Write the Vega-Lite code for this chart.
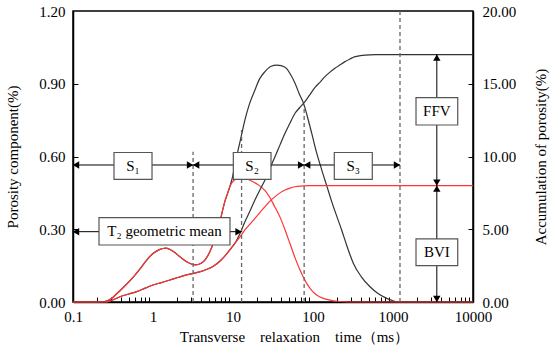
{
  "$schema": "https://vega.github.io/schema/vega-lite/v6.json",
  "width": 400,
  "height": 291,
  "autosize": {"type": "none"},
  "padding": {"left": 73, "top": 11, "right": 77, "bottom": 47},
  "config": {
    "view": {"stroke": "#000", "strokeWidth": 1.5},
    "axis": {"labelFont": "Liberation Serif", "titleFont": "Liberation Serif", "labelFontSize": 15, "titleFontSize": 15, "titleFontWeight": "normal", "labelColor": "#000", "titleColor": "#000", "domainColor": "#000", "domainWidth": 1.5, "tickColor": "#000", "grid": false},
    "text": {"font": "Liberation Serif"}
  },
  "datasets": {
    "poroRed": [
      {"t":0.1,"v":0},{"t":0.2,"v":0},{"t":0.25,"v":0.002},{"t":0.3,"v":0.013},{"t":0.35,"v":0.033},{"t":0.45,"v":0.068},{"t":0.57,"v":0.104},{"t":0.7,"v":0.14},{"t":0.83,"v":0.172},{"t":1.0,"v":0.2},{"t":1.2,"v":0.216},{"t":1.45,"v":0.222},{"t":1.8,"v":0.208},{"t":2.2,"v":0.185},{"t":2.7,"v":0.164},{"t":3.4,"v":0.153},{"t":4.0,"v":0.16},{"t":4.5,"v":0.175},{"t":5.1,"v":0.205},{"t":5.7,"v":0.245},{"t":6.3,"v":0.29},{"t":6.9,"v":0.335},{"t":7.5,"v":0.385},{"t":8.0,"v":0.42},{"t":8.6,"v":0.45},{"t":9.2,"v":0.478},{"t":10.0,"v":0.497},{"t":10.6,"v":0.505},{"t":12.0,"v":0.512},{"t":13.5,"v":0.512},{"t":15,"v":0.507},{"t":17.5,"v":0.497},{"t":21,"v":0.482},{"t":25,"v":0.46},{"t":29,"v":0.43},{"t":33,"v":0.395},{"t":38.7,"v":0.35},{"t":45,"v":0.295},{"t":51.6,"v":0.24},{"t":60,"v":0.18},{"t":68.8,"v":0.132},{"t":83.4,"v":0.077},{"t":100,"v":0.042},{"t":111,"v":0.029},{"t":135,"v":0.015},{"t":163,"v":0.008},{"t":200,"v":0.003},{"t":240,"v":0.001},{"t":300,"v":0},{"t":10000,"v":0}
    ],
    "poroBlack": [
      {"t":0.1,"v":0},{"t":0.2,"v":0},{"t":0.25,"v":0.002},{"t":0.3,"v":0.013},{"t":0.35,"v":0.033},{"t":0.45,"v":0.068},{"t":0.57,"v":0.104},{"t":0.7,"v":0.14},{"t":0.83,"v":0.172},{"t":1.0,"v":0.2},{"t":1.2,"v":0.216},{"t":1.45,"v":0.222},{"t":1.8,"v":0.208},{"t":2.2,"v":0.185},{"t":2.7,"v":0.164},{"t":3.4,"v":0.153},{"t":4.0,"v":0.16},{"t":4.5,"v":0.175},{"t":5.1,"v":0.205},{"t":5.7,"v":0.245},{"t":6.3,"v":0.29},{"t":6.9,"v":0.335},{"t":7.5,"v":0.385},{"t":8.0,"v":0.42},{"t":8.6,"v":0.45},
      {"t":9.6,"v":0.5},{"t":10.6,"v":0.565},{"t":11.6,"v":0.627},{"t":12.8,"v":0.69},{"t":14.1,"v":0.751},{"t":16,"v":0.815},{"t":18.8,"v":0.874},{"t":21.5,"v":0.92},{"t":25.1,"v":0.95},{"t":30,"v":0.972},{"t":35.2,"v":0.977},{"t":40,"v":0.975},{"t":46.9,"v":0.962},{"t":52,"v":0.94},{"t":59.6,"v":0.902},{"t":67,"v":0.86},{"t":77.5,"v":0.812},{"t":85,"v":0.765},{"t":96.3,"v":0.696},{"t":110,"v":0.62},{"t":128.5,"v":0.545},{"t":150,"v":0.475},{"t":171,"v":0.415},{"t":200,"v":0.35},{"t":228,"v":0.297},{"t":260,"v":0.24},{"t":290,"v":0.195},{"t":319,"v":0.16},{"t":400,"v":0.105},{"t":516,"v":0.063},{"t":650,"v":0.035},{"t":834,"v":0.015},{"t":1000,"v":0.005},{"t":1113,"v":0.001},{"t":1300,"v":0},{"t":10000,"v":0}
    ],
    "cumRed": [
      {"t":0.1,"v":0},{"t":0.25,"v":0},{"t":0.3,"v":0.1},{"t":0.387,"v":0.36},{"t":0.5,"v":0.55},{"t":0.625,"v":0.71},{"t":0.8,"v":0.95},{"t":1.0,"v":1.17},{"t":1.3,"v":1.35},{"t":1.63,"v":1.51},{"t":2.1,"v":1.7},{"t":2.64,"v":1.86},{"t":3.4,"v":2.0},{"t":4.25,"v":2.15},{"t":5.0,"v":2.3},{"t":5.67,"v":2.45},{"t":7.0,"v":2.85},{"t":8.34,"v":3.3},{"t":9.5,"v":3.7},{"t":10.6,"v":4.05},{"t":12.3,"v":4.5},{"t":14.1,"v":4.95},{"t":16.3,"v":5.35},{"t":18.8,"v":5.75},{"t":21.7,"v":6.15},{"t":25.1,"v":6.55},{"t":29,"v":6.93},{"t":33.5,"v":7.24},{"t":38.7,"v":7.5},{"t":44.7,"v":7.7},{"t":51.6,"v":7.83},{"t":59.6,"v":7.92},{"t":70,"v":7.97},{"t":87,"v":8.0},{"t":120,"v":8.0},{"t":10000,"v":8.0}
    ],
    "cumBlack": [
      {"t":0.1,"v":0},{"t":0.25,"v":0},{"t":0.3,"v":0.1},{"t":0.387,"v":0.36},{"t":0.5,"v":0.55},{"t":0.625,"v":0.71},{"t":0.8,"v":0.95},{"t":1.0,"v":1.17},{"t":1.3,"v":1.35},{"t":1.63,"v":1.51},{"t":2.1,"v":1.7},{"t":2.64,"v":1.86},{"t":3.4,"v":2.0},{"t":4.25,"v":2.15},{"t":5.0,"v":2.3},{"t":5.67,"v":2.45},{"t":7.0,"v":2.85},{"t":8.34,"v":3.3},{"t":9.5,"v":3.7},{"t":10.6,"v":4.05},
      {"t":12.3,"v":4.75},{"t":14.1,"v":5.52},{"t":16.3,"v":6.25},{"t":18.8,"v":7.01},{"t":21.7,"v":7.7},{"t":25.1,"v":8.38},{"t":29,"v":9.2},{"t":33.5,"v":9.99},{"t":38.7,"v":10.8},{"t":44.7,"v":11.59},{"t":51.6,"v":12.3},{"t":59.6,"v":12.97},{"t":68,"v":13.35},{"t":77.5,"v":13.7},{"t":90,"v":14.2},{"t":106,"v":14.75},{"t":122,"v":15.1},{"t":141,"v":15.49},{"t":163,"v":15.8},{"t":188,"v":16.06},{"t":218,"v":16.3},{"t":251,"v":16.52},{"t":290,"v":16.7},{"t":335,"v":16.86},{"t":390,"v":16.93},{"t":447,"v":16.97},{"t":600,"v":17.0},{"t":10000,"v":17.0}
    ],
    "dashed": [
      {"t":3.17,"bot":0,"top":0.62},{"t":12.8,"bot":0,"top":0.709},{"t":77.5,"bot":0,"top":0.812},{"t":1223,"bot":0,"top":1.2}
    ],
    "lines": [
      {"t1":0.1,"t2":1223,"y1":0.565,"y2":0.565},
      {"t1":0.1,"t2":12.8,"y1":0.29,"y2":0.29},
      {"t1":3530,"t2":3530,"y1":0,"y2":1.02}
    ],
    "arrows": [
      {"t":0.1,"y":0.565,"dir":"left"},{"t":3.17,"y":0.565,"dir":"right"},{"t":3.17,"y":0.565,"dir":"left"},{"t":77.5,"y":0.565,"dir":"right"},{"t":77.5,"y":0.565,"dir":"left"},{"t":1223,"y":0.565,"dir":"right"},
      {"t":0.1,"y":0.29,"dir":"left"},{"t":12.8,"y":0.29,"dir":"right"},
      {"t":3530,"y":1.02,"dir":"up"},{"t":3530,"y":0.48,"dir":"down"},{"t":3530,"y":0.48,"dir":"up"},{"t":3530,"y":0,"dir":"down"}
    ],
    "boxes": [
      {"t1":0.3255,"t2":0.972,"y1":0.506,"y2":0.6165,"tc":0.5625,"yc":0.561,"label":"S₁"},
      {"t1":10.09,"t2":29.85,"y1":0.506,"y2":0.6165,"tc":17.35,"yc":0.561,"label":"S₂"},
      {"t1":184.6,"t2":551,"y1":0.506,"y2":0.6165,"tc":319,"yc":0.561,"label":"S₃"},
      {"t1":0.2113,"t2":9.17,"y1":0.235,"y2":0.3476,"tc":1.392,"yc":0.291,"label":"T₂ geometric mean"},
      {"t1":1939,"t2":6442,"y1":0.73,"y2":0.8425,"tc":3534,"yc":0.786,"label":"FFV"},
      {"t1":1939,"t2":6442,"y1":0.15,"y2":0.26,"tc":3534,"yc":0.205,"label":"BVI"}
    ]
  },
  "layer": [
    {
      "data": {"name": "poroBlack"},
      "mark": {"type": "line", "color": "#333", "strokeWidth": 1.2, "interpolate": "monotone"},
      "encoding": {
        "x": {"field": "t", "type": "quantitative", "scale": {"type": "log", "domain": [0.1, 10000], "nice": false},
              "axis": {"orient": "bottom", "values": [0.1, 1, 10, 100, 1000, 10000], "format": "~g", "ticks": false, "labelPadding": 7, "labelFlush": false, "labelOverlap": false,
                       "title": "Transverse\u00a0\u00a0\u00a0\u00a0relaxation\u00a0\u00a0\u00a0\u00a0time（ms）", "titleX": 221, "titleY": 34, "titleBaseline": "middle"}},
        "y": {"field": "v", "type": "quantitative", "scale": {"domain": [0, 1.2], "nice": false},
              "axis": {"orient": "left", "values": [0, 0.3, 0.6, 0.9, 1.2], "format": ".2f", "ticks": false, "labelPadding": 8,
                       "title": "Porosity component(%)", "titleX": -61, "titleY": 145.5, "titleAngle": 270, "titleBaseline": "middle", "titleAlign": "center"}}
      }
    },
    {
      "data": {"name": "poroRed"},
      "mark": {"type": "line", "color": "#ff3333", "strokeWidth": 1.2, "interpolate": "monotone"},
      "encoding": {
        "x": {"field": "t", "type": "quantitative", "scale": {"type": "log", "domain": [0.1, 10000], "nice": false}, "axis": null},
        "y": {"field": "v", "type": "quantitative", "scale": {"domain": [0, 1.2], "nice": false}, "axis": null}
      }
    },
    {
      "data": {"name": "cumBlack"},
      "mark": {"type": "line", "color": "#333", "strokeWidth": 1.2, "interpolate": "monotone"},
      "encoding": {
        "x": {"field": "t", "type": "quantitative", "scale": {"type": "log", "domain": [0.1, 10000], "nice": false}, "axis": null},
        "y": {"field": "v", "type": "quantitative", "scale": {"domain": [0, 20], "nice": false},
              "axis": {"orient": "right", "values": [0, 5, 10, 15, 20], "format": ".2f", "ticks": false, "labelPadding": 9,
                       "title": "Accumulation of porosity(%)", "titleX": 67, "titleY": 145.5, "titleAngle": 270, "titleBaseline": "middle", "titleAlign": "center"}}
      }
    },
    {
      "data": {"name": "cumRed"},
      "mark": {"type": "line", "color": "#ff3333", "strokeWidth": 1.2, "interpolate": "monotone"},
      "encoding": {
        "x": {"field": "t", "type": "quantitative", "scale": {"type": "log", "domain": [0.1, 10000], "nice": false}, "axis": null},
        "y": {"field": "v", "type": "quantitative", "scale": {"domain": [0, 20], "nice": false}, "axis": null}
      }
    },
    {
      "data": {"name": "dashed"},
      "mark": {"type": "rule", "color": "#666", "strokeWidth": 1.3, "strokeDash": [4, 3]},
      "encoding": {
        "x": {"field": "t", "type": "quantitative", "scale": {"type": "log", "domain": [0.1, 10000], "nice": false},
              "axis": {"orient": "bottom", "offset": -5, "tickSize": 5, "values": [0.2,0.3,0.4,0.5,0.6,0.7,0.8,0.9,2,3,4,5,6,7,8,9,20,30,40,50,60,70,80,90,200,300,400,500,600,700,800,900,2000,3000,4000,5000,6000,7000,8000,9000],
                       "labels": false, "domain": false, "title": null}},
        "y": {"field": "bot", "type": "quantitative", "scale": {"domain": [0, 1.2], "nice": false},
              "axis": {"orient": "left", "offset": -5, "tickSize": 5, "values": [0.3, 0.6, 0.9], "labels": false, "domain": false, "title": null}},
        "y2": {"field": "top"}
      }
    },
    {
      "data": {"name": "lines"},
      "mark": {"type": "rule", "color": "#000", "strokeWidth": 1},
      "encoding": {
        "x": {"field": "t1", "type": "quantitative", "scale": {"type": "log", "domain": [0.1, 10000], "nice": false}, "axis": null},
        "x2": {"field": "t2"},
        "y": {"field": "y1", "type": "quantitative", "scale": {"domain": [0, 1.2], "nice": false},
              "axis": {"orient": "right", "offset": -5, "tickSize": 5, "values": [0.3, 0.6, 0.9], "labels": false, "domain": false, "title": null}},
        "y2": {"field": "y2"}
      }
    },
    {
      "data": {"name": "arrows"},
      "transform": [{"filter": "datum.dir === 'right'"}],
      "mark": {"type": "point", "shape": "triangle-right", "filled": true, "color": "#000", "opacity": 1, "size": 55, "xOffset": -3},
      "encoding": {
        "x": {"field": "t", "type": "quantitative", "scale": {"type": "log", "domain": [0.1, 10000], "nice": false}, "axis": null},
        "y": {"field": "y", "type": "quantitative", "scale": {"domain": [0, 1.2], "nice": false}, "axis": null}
      }
    },
    {
      "data": {"name": "arrows"},
      "transform": [{"filter": "datum.dir === 'left'"}],
      "mark": {"type": "point", "shape": "triangle-left", "filled": true, "color": "#000", "opacity": 1, "size": 55, "xOffset": 3},
      "encoding": {
        "x": {"field": "t", "type": "quantitative", "scale": {"type": "log", "domain": [0.1, 10000], "nice": false}, "axis": null},
        "y": {"field": "y", "type": "quantitative", "scale": {"domain": [0, 1.2], "nice": false}, "axis": null}
      }
    },
    {
      "data": {"name": "arrows"},
      "transform": [{"filter": "datum.dir === 'up'"}],
      "mark": {"type": "point", "shape": "triangle-up", "filled": true, "color": "#000", "opacity": 1, "size": 55, "yOffset": 3},
      "encoding": {
        "x": {"field": "t", "type": "quantitative", "scale": {"type": "log", "domain": [0.1, 10000], "nice": false}, "axis": null},
        "y": {"field": "y", "type": "quantitative", "scale": {"domain": [0, 1.2], "nice": false}, "axis": null}
      }
    },
    {
      "data": {"name": "arrows"},
      "transform": [{"filter": "datum.dir === 'down'"}],
      "mark": {"type": "point", "shape": "triangle-down", "filled": true, "color": "#000", "opacity": 1, "size": 55, "yOffset": -3},
      "encoding": {
        "x": {"field": "t", "type": "quantitative", "scale": {"type": "log", "domain": [0.1, 10000], "nice": false}, "axis": null},
        "y": {"field": "y", "type": "quantitative", "scale": {"domain": [0, 1.2], "nice": false}, "axis": null}
      }
    },
    {
      "data": {"name": "boxes"},
      "mark": {"type": "rect", "fill": "#fff", "stroke": "#555", "strokeWidth": 1.2},
      "encoding": {
        "x": {"field": "t1", "type": "quantitative", "scale": {"type": "log", "domain": [0.1, 10000], "nice": false}, "axis": null},
        "x2": {"field": "t2"},
        "y": {"field": "y1", "type": "quantitative", "scale": {"domain": [0, 1.2], "nice": false}, "axis": null},
        "y2": {"field": "y2"}
      }
    },
    {
      "data": {"name": "boxes"},
      "mark": {"type": "text", "font": "Liberation Serif", "fontSize": 15, "color": "#000", "align": "center", "baseline": "middle"},
      "encoding": {
        "x": {"field": "tc", "type": "quantitative", "scale": {"type": "log", "domain": [0.1, 10000], "nice": false}, "axis": null},
        "y": {"field": "yc", "type": "quantitative", "scale": {"domain": [0, 1.2], "nice": false}, "axis": null},
        "text": {"field": "label"}
      }
    }
  ],
  "resolve": {"scale": {"x": "independent", "y": "independent"}}
}
